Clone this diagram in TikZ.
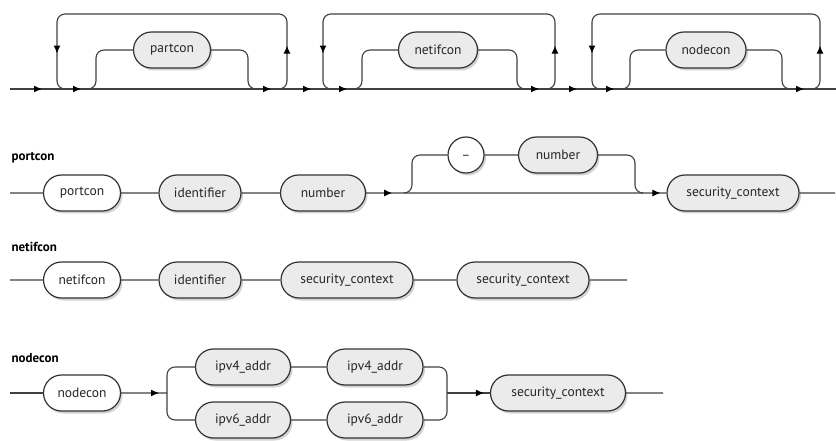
\documentclass[tikz,border=0pt]{standalone}
\usepackage{fontspec}
\setmainfont{PT Sans}
\usetikzlibrary{shapes.misc,shadows,arrows.meta,decorations.markings}

\begin{document}
\begin{tikzpicture}[x=1pt,y=-1pt]

\tikzset{kw/.style = {rounded rectangle,draw=black!80,line width=1.2pt,fill=white,minimum height=36pt,inner xsep=4pt,font=\fontsize{13.5}{15}\selectfont,text=black!85,drop shadow={shadow xshift=2pt,shadow yshift=-2.5pt,opacity=.35}}}
\tikzset{nt/.style = {kw,fill=gray!16}}
\tikzset{lab/.style = {anchor=west,font=\fontsize{13}{15}\selectfont\bfseries}}
\tikzset{rail/.style = {draw=black!75,line width=1.1pt}}
\tikzset{arr/.style = {postaction={decorate,decoration={markings,mark=at position #1 with {\arrow[black]{Latex[length=8pt,width=7pt]}}}}}}

\useasboundingbox (0,0) rectangle (836,441);

% top row
\coordinate (top) at (0,14);
\coordinate (s1) at (10,89);
\coordinate (l1) at (57,89);
\coordinate (b1) at (96,89);
\coordinate (c1) at (248,89);
\coordinate (r1) at (287,89);
\coordinate (l2) at (323,89);
\coordinate (b2) at (362,89);
\coordinate (c2) at (517,89);
\coordinate (r2) at (555,89);
\coordinate (l3) at (592,89);
\coordinate (b3) at (630,89);
\coordinate (c3) at (782,89);
\coordinate (r3) at (820,89);
\coordinate (e1) at (836,89);

\node[nt,minimum width=85pt] (tport) at (172,50) {partcon};
\node[nt,minimum width=87pt] (tnetif) at (438,50) {netifcon};
\node[nt,minimum width=88pt] (tnode) at (706,50) {nodecon};

\draw[rail,arr=32pt,arr=71pt,arr=261pt,arr=301pt,arr=337pt,arr=529pt,arr=567pt,arr=604pt,arr=794pt] (s1) -- (e1);

\draw[rail,rounded corners=8pt] ([xshift=-8pt]b1) -- (b1) |- (tport);
\draw[rail,rounded corners=8pt] (tport) -| (c1) -- ([xshift=8pt]c1);
\draw[rail,rounded corners=8pt,arr=48pt,arr=-40pt]
  ([xshift=-8pt]r1) -- (r1) -- (r1 |- top) -- (l1 |- top) -- (l1) -- ([xshift=8pt]l1);

\draw[rail,rounded corners=8pt] ([xshift=-8pt]b2) -- (b2) |- (tnetif);
\draw[rail,rounded corners=8pt] (tnetif) -| (c2) -- ([xshift=8pt]c2);
\draw[rail,rounded corners=8pt,arr=48pt,arr=-40pt]
  ([xshift=-8pt]r2) -- (r2) -- (r2 |- top) -- (l2 |- top) -- (l2) -- ([xshift=8pt]l2);

\draw[rail,rounded corners=8pt] ([xshift=-8pt]b3) -- (b3) |- (tnode);
\draw[rail,rounded corners=8pt] (tnode) -| (c3) -- ([xshift=8pt]c3);
\draw[rail,rounded corners=8pt,arr=48pt,arr=-40pt]
  ([xshift=-8pt]r3) -- (r3) -- (r3 |- top) -- (l3 |- top) -- (l3) -- ([xshift=8pt]l3);

% portcon
\node[lab] (lport) at (8,158) {portcon};
\coordinate (s2) at (10,193);
\coordinate (j2) at (412,193);
\coordinate (m2) at (635,193);
\coordinate (e2) at (835,193);
\node[kw,minimum width=85pt] (kport) at (82,193) {portcon};
\node[nt,minimum width=90pt] (idport) at (200,193) {identifier};
\node[nt,minimum width=93pt] (numport) at (323,193) {number};
\node[kw,minimum width=42pt] (uscore) at (466,155) {\_};
\node[nt,minimum width=87pt] (numopt) at (558,155) {number};
\node[nt,minimum width=140pt] (scport) at (733,193) {security\_context};

\draw[rail] (s2) -- (kport) -- (idport) -- (numport);
\draw[rail,arr=26pt,arr=-6pt] (numport) -- (scport);
\draw[rail] (scport) -- (e2);
\draw[rail,rounded corners=8pt] ([xshift=-8pt]j2) -- (j2) |- (uscore);
\draw[rail] (uscore) -- (numopt);
\draw[rail,rounded corners=8pt] (numopt) -| (m2) -- ([xshift=8pt]m2);

% netifcon
\node[lab] (lnetif) at (8,247) {netifcon};
\coordinate (s3) at (10,280);
\coordinate (e3) at (627,280);
\node[kw,minimum width=85pt] (knetif) at (82,280) {netifcon};
\node[nt,minimum width=90pt] (idnetif) at (200,280) {identifier};
\node[nt,minimum width=140pt] (scnetif1) at (347,280) {security\_context};
\node[nt,minimum width=140pt] (scnetif2) at (523,280) {security\_context};

\draw[rail] (s3) -- (knetif) -- (idnetif) -- (scnetif1) -- (scnetif2) -- (e3);

% nodecon
\node[lab] (lnode) at (8,358) {nodecon};
\coordinate (s4) at (10,393);
\coordinate (j4) at (167,393);
\coordinate (m4) at (447,393);
\coordinate (e4) at (663,393);
\node[kw,minimum width=85pt] (knode) at (82,393) {nodecon};
\node[nt,minimum width=103pt] (ip4a) at (243,367) {ipv4\_addr};
\node[nt,minimum width=104pt] (ip4b) at (375,367) {ipv4\_addr};
\node[nt,minimum width=103pt] (ip6a) at (243,420) {ipv6\_addr};
\node[nt,minimum width=104pt] (ip6b) at (375,420) {ipv6\_addr};
\node[nt,minimum width=143pt] (scnode) at (558,393) {security\_context};

\draw[rail] (s4) -- (knode);
\draw[rail,arr=-8pt] (knode) -- (j4);
\draw[rail,rounded corners=8pt] (ip4a) -| (j4) |- (ip6a);
\draw[rail] (ip4a) -- (ip4b);
\draw[rail] (ip6a) -- (ip6b);
\draw[rail,rounded corners=8pt] (ip4b) -| (m4) |- (ip6b);
\draw[rail,arr=-6pt] (m4) -- (scnode);
\draw[rail] (scnode) -- (e4);

\end{tikzpicture}
\end{document}
